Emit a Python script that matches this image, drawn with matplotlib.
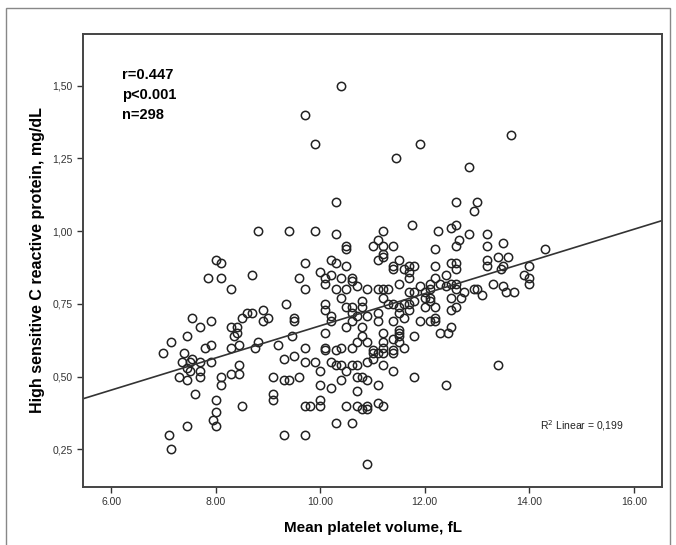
import numpy as np
import matplotlib.pyplot as plt
from matplotlib.patches import Rectangle

plt.rcParams['font.family'] = ['Liberation Sans', 'DejaVu Sans']

# Mean platelet volume (fL) vs hs-CRP (mg/dL)
mpv = [
    10.4, 9.7, 9.9, 11.9, 11.45, 13.65, 12.85, 10.3, 12.6, 13.0, 12.95,
    10.9, 7.15, 7.1, 7.45, 9.3, 9.7, 10.3, 10.6, 13.4, 12.4, 11.8, 14.3,
    8.8, 9.4, 9.9, 10.3, 11.2, 11.75, 12.25, 12.5, 12.6, 12.85, 13.2,
    7.0, 7.15, 7.3, 7.4, 7.35, 7.45, 7.5, 7.55, 7.45, 7.45, 7.55, 7.5,
    7.6, 7.7, 7.7, 7.7, 7.7, 7.8, 7.85, 7.9, 7.9, 7.9, 7.95, 8.0, 8.1,
    8.1, 8.0, 8.0, 8.0, 8.1, 8.1, 8.3, 8.3, 8.4, 8.35, 8.4, 8.3, 8.3,
    8.45, 8.45, 8.45, 8.5, 8.5, 8.6, 8.7, 8.7, 8.75, 8.8, 8.9, 8.9, 9.0,
    9.1, 9.1, 9.1, 9.2, 9.3, 9.3, 9.4, 9.35, 9.45, 9.5, 9.5, 9.5, 9.6,
    9.6, 9.7, 9.7, 9.7, 9.7, 9.7, 9.8, 9.9, 10.0, 10.0, 10.0, 10.0, 10.0,
    10.1, 10.1, 10.1, 10.1, 10.1, 10.1, 10.1, 10.2, 10.2, 10.2, 10.2,
    10.2, 10.2, 10.3, 10.3, 10.3, 10.3, 10.4, 10.4, 10.4, 10.4, 10.4,
    10.5, 10.5, 10.5, 10.5, 10.5, 10.5, 10.5, 10.5, 10.6, 10.6, 10.6,
    10.6, 10.6, 10.6, 10.6, 10.7, 10.7, 10.7, 10.7, 10.7, 10.7, 10.7,
    10.8, 10.8, 10.8, 10.8, 10.8, 10.8, 10.9, 10.9, 10.9, 10.9, 10.9,
    10.9, 10.9, 11.0, 11.0, 11.0, 11.0, 11.1, 11.1, 11.1, 11.1, 11.1,
    11.1, 11.1, 11.1, 11.2, 11.2, 11.2, 11.2, 11.2, 11.2, 11.2, 11.2,
    11.2, 11.2, 11.2, 11.3, 11.3, 11.4, 11.4, 11.4, 11.4, 11.4, 11.4,
    11.4, 11.4, 11.4, 11.5, 11.5, 11.5, 11.5, 11.5, 11.5, 11.5, 11.5,
    11.6, 11.6, 11.6, 11.6, 11.7, 11.7, 11.7, 11.7, 11.7, 11.7, 11.8,
    11.8, 11.8, 11.8, 11.9, 11.9, 12.0, 12.0, 12.0, 12.1, 12.1, 12.1,
    12.1, 12.1, 12.2, 12.2, 12.2, 12.2, 12.2, 12.2, 12.3, 12.3, 12.4,
    12.4, 12.45, 12.5, 12.5, 12.5, 12.5, 12.5, 12.6, 12.6, 12.6, 12.6,
    12.6, 12.6, 12.65, 12.7, 12.75, 12.95, 13.0, 13.1, 13.2, 13.2, 13.2,
    13.3, 13.4, 13.45, 13.5, 13.5, 13.5, 13.55, 13.6, 13.7, 13.9, 14.0,
    14.0, 14.0,
]
crp = [
    1.50, 1.40, 1.30, 1.30, 1.25, 1.33, 1.22, 1.10, 1.10, 1.10, 1.07,
    0.20, 0.25, 0.30, 0.33, 0.30, 0.30, 0.34, 0.34, 0.54, 0.47, 0.50, 0.94,
    1.00, 1.00, 1.00, 0.99, 1.00, 1.02, 1.00, 1.01, 1.02, 0.99, 0.99,
    0.58, 0.62, 0.50, 0.58, 0.55, 0.53, 0.55, 0.56, 0.49, 0.64, 0.70, 0.52,
    0.44, 0.67, 0.50, 0.55, 0.52, 0.60, 0.84, 0.69, 0.61, 0.55, 0.35, 0.90, 0.89,
    0.84, 0.42, 0.38, 0.33, 0.50, 0.47, 0.80, 0.67, 0.67, 0.64, 0.65, 0.60, 0.51,
    0.61, 0.54, 0.51, 0.70, 0.40, 0.72, 0.72, 0.85, 0.60, 0.62, 0.73, 0.69, 0.70,
    0.50, 0.44, 0.42, 0.61, 0.56, 0.49, 0.49, 0.75, 0.64, 0.70, 0.69, 0.57, 0.50,
    0.84, 0.89, 0.80, 0.60, 0.55, 0.40, 0.40, 0.55, 0.86, 0.52, 0.47, 0.42, 0.40,
    0.84, 0.82, 0.75, 0.73, 0.65, 0.60, 0.59, 0.71, 0.69, 0.90, 0.85,
    0.55, 0.46, 0.80, 0.89, 0.59, 0.54, 0.60, 0.54, 0.49, 0.77, 0.84,
    0.95, 0.94, 0.88, 0.80, 0.74, 0.67, 0.52, 0.40, 0.84, 0.83, 0.74,
    0.69, 0.60, 0.54, 0.72, 0.81, 0.71, 0.62, 0.54, 0.50, 0.45, 0.40,
    0.76, 0.74, 0.67, 0.64, 0.50, 0.39, 0.80, 0.71, 0.62, 0.55, 0.49,
    0.40, 0.39, 0.95, 0.58, 0.59, 0.56, 0.97, 0.90, 0.80, 0.72, 0.69,
    0.47, 0.41, 0.58, 0.95, 0.92, 0.91, 0.80, 0.77, 0.65, 0.62, 0.60,
    0.58, 0.54, 0.40, 0.80, 0.75, 0.95, 0.88, 0.87, 0.75, 0.69, 0.63,
    0.59, 0.58, 0.52, 0.90, 0.82, 0.74, 0.72, 0.66, 0.65, 0.64, 0.62,
    0.87, 0.75, 0.70, 0.60, 0.88, 0.86, 0.84, 0.79, 0.73, 0.75, 0.88,
    0.79, 0.76, 0.64, 0.81, 0.69, 0.79, 0.77, 0.74, 0.82, 0.80, 0.77,
    0.76, 0.69, 0.94, 0.88, 0.84, 0.74, 0.70, 0.69, 0.82, 0.65, 0.85,
    0.81, 0.65, 0.89, 0.82, 0.77, 0.73, 0.67, 0.89, 0.95, 0.87, 0.82,
    0.80, 0.74, 0.97, 0.77, 0.79, 0.80, 0.80, 0.78, 0.95, 0.90, 0.88,
    0.82, 0.91, 0.87, 0.88, 0.96, 0.81, 0.79, 0.91, 0.79, 0.85, 0.88,
    0.84, 0.82,
]
x_ticks = [6, 8, 10, 12, 14, 16]
y_ticks = [0.25, 0.50, 0.75, 1.00, 1.25, 1.50]

mpv = np.array(mpv)
crp = np.array(crp)

fig = plt.figure(figsize=(6.76, 5.45), dpi=100)
ax = fig.add_axes([0.1228, 0.107, 0.8565, 0.831])

# outer frame of the picture
fig.patches.append(Rectangle((6 / 676, -0.01), 664 / 676, 1 - 8 / 545 + 0.01,
                             transform=fig.transFigure, fill=False,
                             edgecolor='#888888', linewidth=1.0))

ax.plot(mpv, crp, 'o', markersize=6, markerfacecolor='none',
        markeredgecolor='#222222', markeredgewidth=1.1, linestyle='none')

# fit line across the whole axis
slope, intercept = np.polyfit(mpv, crp, 1)
xl = np.array([5.46, 16.54])
ax.plot(xl, slope * xl + intercept, color='#333333', linewidth=1.2)

ax.set_xlim(5.46, 16.54)
ax.set_ylim(0.122, 1.678)
ax.set_xticks(x_ticks)
ax.set_xticklabels([f'{v:.2f}' for v in x_ticks])
ax.set_yticks(y_ticks)
ax.set_yticklabels([f'{v:.2f}'.replace('.', ',') for v in y_ticks])
ax.tick_params(direction='out', length=4, width=1, color='#333333',
               labelsize=7.5, labelcolor='#333333')
for s in ax.spines.values():
    s.set_color('#444444')
    s.set_linewidth(1.4)

ax.set_xlabel('Mean platelet volume, fL', fontsize=11, fontweight='bold',
              labelpad=10)
ax.set_ylabel('High sensitive C reactive protein, mg/dL', fontsize=11.5,
              fontweight='bold', labelpad=5)

ax.text(0.068, 0.865, 'r=0.447\np<0.001\nn=298', transform=ax.transAxes,
        fontsize=10.5, fontweight='bold', va='center', linespacing=1.55)
ax.text(0.79, 0.135, 'R$^2$ Linear = 0,199', transform=ax.transAxes,
        fontsize=7.5, color='#222222', va='center')

plt.savefig('out.png', dpi=100)
